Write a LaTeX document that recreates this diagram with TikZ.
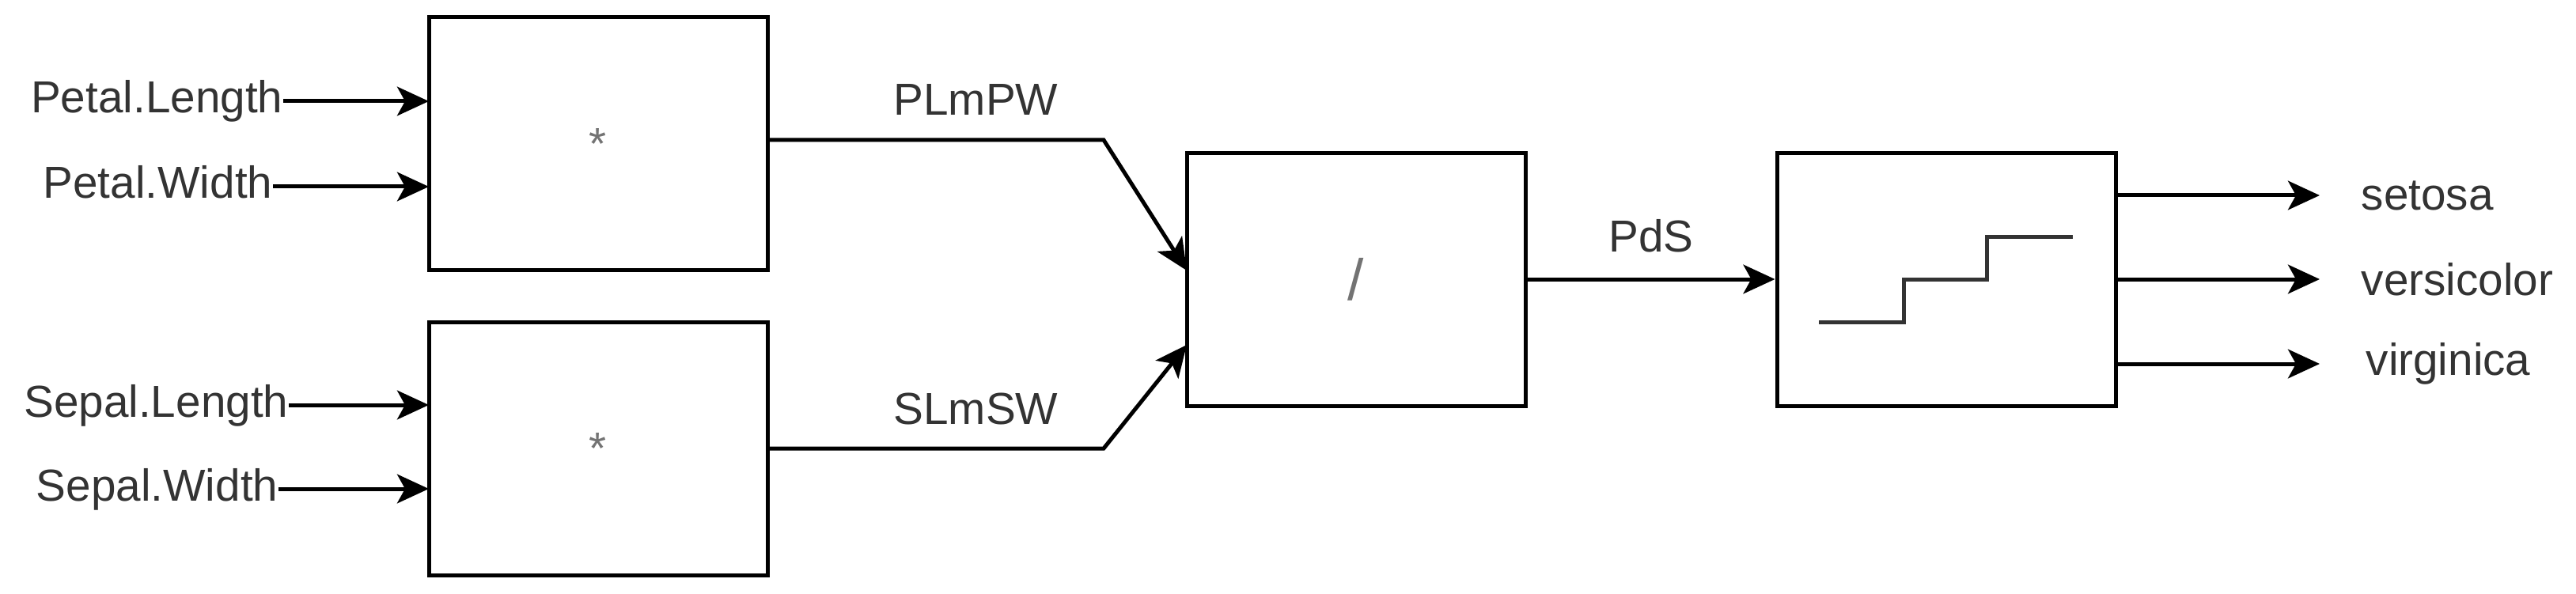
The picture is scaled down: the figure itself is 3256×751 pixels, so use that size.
\documentclass[tikz,border=0pt]{standalone}
\usepackage{fontspec}
\setmainfont{Liberation Sans}
\usetikzlibrary{arrows.meta}
\begin{document}
\begin{tikzpicture}[x=0.3pt,y=-0.3pt,
  blk/.style={draw,line width=1.5pt,inner sep=0pt,minimum width=128.4pt,minimum height=96pt},
  lbl/.style={inner sep=0pt,font=\fontsize{17}{20}\selectfont,text=black!80},
  wire/.style={line width=1.5pt},
  arr/.style={wire,-{Stealth[length=12pt,width=11pt,inset=3pt]}}]
\useasboundingbox (0,0) rectangle (3256,751);
\node[blk] (m1) at (756,182) {};
\node[blk] (m2) at (756,567) {};
\node[blk] (dv) at (1714,353) {};
\node[blk] (st) at (2460,353) {};
\node[text=black!55,font=\fontsize{17}{20}\selectfont] (s1) at (m1) {*};
\node[text=black!55,font=\fontsize{17}{20}\selectfont] (s2) at (m2) {*};
\node[text=black!55,font=\fontsize{22}{24}\selectfont] (sl) at (dv) {/};
% inputs
\node[lbl,anchor=base east] (pl) at (358,143) {Petal.Length};
\node[lbl,anchor=base east] (pw) at (345,251) {Petal.Width};
\node[lbl,anchor=base east] (sL) at (365,527) {Sepal.Length};
\node[lbl,anchor=base east] (sw) at (352,633) {Sepal.Width};
\coordinate (a1) at (542,128); \coordinate (a2) at (542,236);
\coordinate (a3) at (542,512); \coordinate (a4) at (542,618);
\draw[arr] (a1 -| pl.east) -- (a1);
\draw[arr] (a2 -| pw.east) -- (a2);
\draw[arr] (a3 -| sL.east) -- (a3);
\draw[arr] (a4 -| sw.east) -- (a4);
% middle
\coordinate (k1) at (1395,177); \coordinate (k2) at (1395,567);
\coordinate (d1) at (1500,342); \coordinate (d2) at (1500,436);
\draw[arr] (m1.east |- k1) -- (k1) -- (d1);
\draw[arr] (m2.east |- k2) -- (k2) -- (d2);
\node[lbl,anchor=base west] (t1) at (1129,146) {PLmPW};
\node[lbl,anchor=base west] (t2) at (1129,536) {SLmSW};
\draw[arr] (dv.east) -- (st.west);
\node[lbl,anchor=base west] (t3) at (2033,318) {PdS};
% step symbol
\draw[line width=1.5pt,black!80] (2299,407) -- (2406,407) -- (2406,353) -- (2511,353) -- (2511,299) -- (2620,299);
% outputs
\coordinate (o1) at (2932,247); \coordinate (o2) at (2932,353); \coordinate (o3) at (2932,460);
\draw[arr] (st.east |- o1) -- (o1);
\draw[arr] (st.east |- o2) -- (o2);
\draw[arr] (st.east |- o3) -- (o3);
\node[lbl,anchor=west] (c1) at (2984,247) {setosa};
\node[lbl,anchor=west] (c2) at (2984,353) {versicolor};
\node[lbl,anchor=west] (c3) at (2990,460) {virginica};
\end{tikzpicture}
\end{document}
